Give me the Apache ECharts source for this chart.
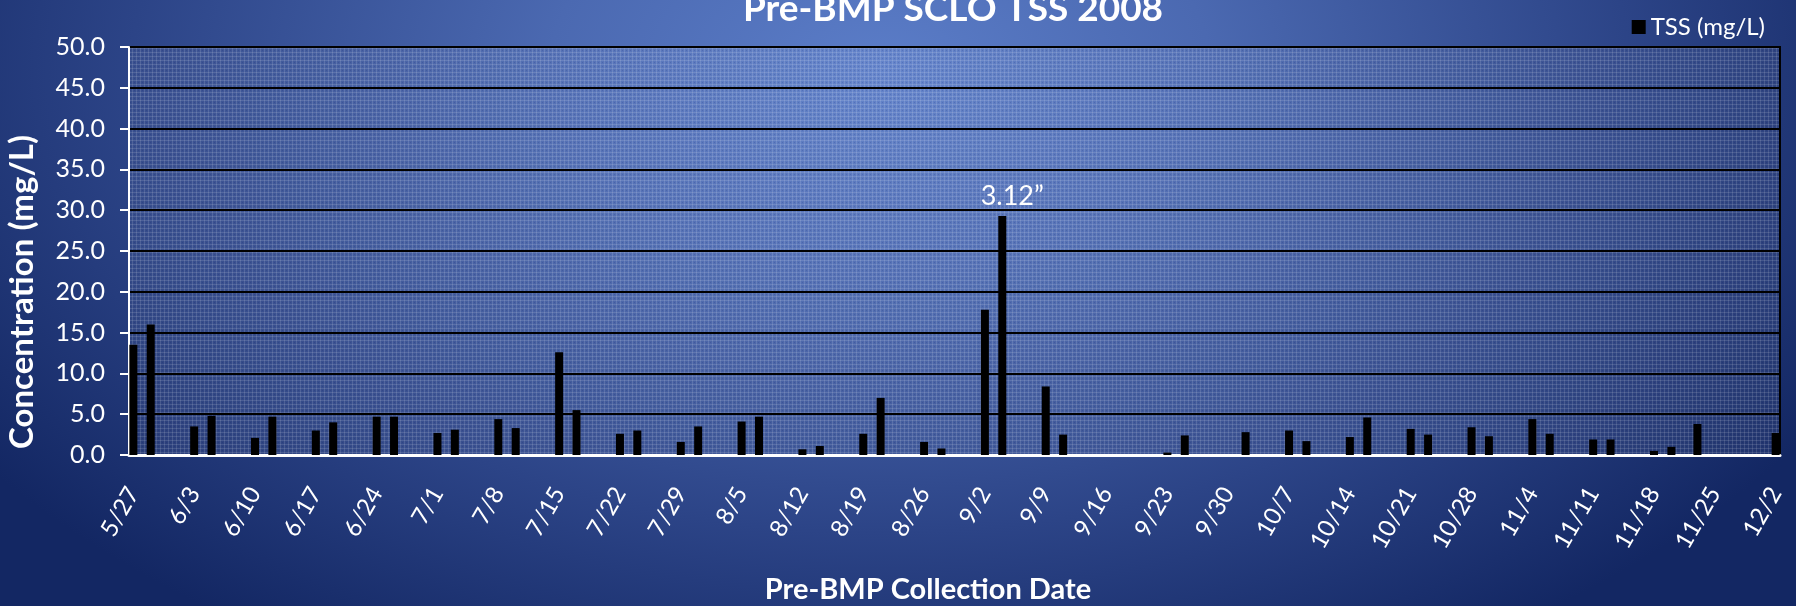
<!DOCTYPE html>
<html>
<head>
<meta charset="utf-8">
<script src="https://cdn.jsdelivr.net/npm/echarts@6/dist/echarts.min.js"></script>
<style>
  html, body { margin: 0; padding: 0; }
  #chart {
    width: 1796px;
    height: 606px;
    background: radial-gradient(ellipse 1100px 680px at 880px 70px, #5b7dc8 0%, #4b69b1 30%, #2c4487 68%, #132763 100%);
  }
</style>
</head>
<body>
<div id="chart"></div>
<script>
// sample dates (2008) and TSS values
var sampleDates = ['5/27', '5/29', '6/3', '6/5', '6/10', '6/12', '6/17', '6/19', '6/24', '6/26',
  '7/1', '7/3', '7/8', '7/10', '7/15', '7/17', '7/22', '7/24', '7/29', '7/31',
  '8/5', '8/7', '8/12', '8/14', '8/19', '8/21', '8/26', '8/28', '9/2', '9/4',
  '9/9', '9/11', '9/23', '9/25', '10/2', '10/7', '10/9', '10/14', '10/16', '10/21',
  '10/23', '10/28', '10/30', '11/4', '11/6', '11/11', '11/13', '11/18', '11/20', '11/23', '12/2'];
var tss = [13.5, 16.0, 3.5, 4.8, 2.1, 4.7, 3.0, 4.0, 4.7, 4.7,
  2.7, 3.1, 4.4, 3.3, 12.6, 5.5, 2.6, 3.0, 1.6, 3.5,
  4.1, 4.7, 0.7, 1.1, 2.6, 7.0, 1.6, 0.8, 17.8, 29.3,
  8.4, 2.5, 0.3, 2.4, 2.8, 3.0, 1.7, 2.2, 4.6, 3.2,
  2.5, 3.4, 2.3, 4.4, 2.6, 1.9, 1.9, 0.5, 1.0, 3.8, 2.7];
var tickLabels = ['5/27', '6/3', '6/10', '6/17', '6/24', '7/1', '7/8', '7/15', '7/22', '7/29',
  '8/5', '8/12', '8/19', '8/26', '9/2', '9/9', '9/16', '9/23', '9/30', '10/7',
  '10/14', '10/21', '10/28', '11/4', '11/11', '11/18', '11/25', '12/2'];
var yTicks = [0, 5, 10, 15, 20, 25, 30, 35, 40, 45, 50];
var rainNote = { date: '9/4', text: '3.12\u201D' };

// one category per day, like the excel date axis
var days = [];
var t0 = Date.UTC(2008, 4, 27), t1 = Date.UTC(2008, 11, 2);
for (var t = t0; t <= t1; t += 86400000) {
  var d = new Date(t);
  days.push((d.getUTCMonth() + 1) + '/' + d.getUTCDate());
}
var barData = days.map(function (day) {
  var i = sampleDates.indexOf(day);
  if (i < 0) return '-';
  if (day === rainNote.date) {
    return {
      value: tss[i],
      label: { show: true, position: 'top', formatter: rainNote.text, offset: [10, -1],
        color: '#fff', fontSize: 27, fontFamily: 'Lato' }
    };
  }
  return tss[i];
});

// small hatch tile for plot area
var tile = document.createElement('canvas');
tile.width = 4; tile.height = 4;
var c = tile.getContext('2d');
c.fillStyle = 'rgba(255,255,255,0.06)';
c.fillRect(0, 0, 4, 4);
c.fillStyle = 'rgba(255,255,255,0.12)';
c.fillRect(0, 0, 4, 1);
c.fillRect(0, 0, 1, 4);
c.fillStyle = 'rgba(20,30,90,0.14)';
c.fillRect(2, 2, 1, 1);

var font = 'Lato';
var myChart = echarts.init(document.getElementById('chart'));
var option = {
  backgroundColor: 'transparent',
  animation: false,
  textStyle: { fontFamily: font },
  legend: {
    data: ['TSS (mg/L)'],
    right: 26, top: 10,
    icon: 'rect', itemWidth: 14, itemHeight: 14, itemGap: 6,
    textStyle: { color: '#fff', fontSize: 24, fontFamily: font }
  },
  grid: {
    left: 129, right: 16, top: 47, bottom: 151,
    containLabel: false, outerBoundsMode: 'none',
    show: true,
    backgroundColor: { image: tile, repeat: 'repeat' },
    borderColor: '#000', borderWidth: 2
  },
  graphic: [
    { type: 'text', x: 953, y: 9, style: { text: 'Pre-BMP SCLO TSS 2008', fill: '#fff',
      font: 'bold 37px ' + font, align: 'center', verticalAlign: 'middle' } },
    { type: 'text', x: 22, y: 292, rotation: Math.PI / 2, style: { text: 'Concentration (mg/L)',
      fill: '#fff', font: 'bold 33px ' + font, align: 'center', verticalAlign: 'middle' } },
    { type: 'text', x: 928, y: 590, style: { text: 'Pre-BMP Collection Date', fill: '#fff',
      font: 'bold 29px ' + font, align: 'center', verticalAlign: 'middle' } }
  ],
  xAxis: {
    type: 'category',
    data: days,
    boundaryGap: true,
    axisLine: { show: true, lineStyle: { color: '#fff', width: 3 } },
    axisTick: { show: false },
    axisLabel: {
      color: '#fff', fontSize: 24, rotate: 60, margin: 34,
      interval: function (i, v) { return tickLabels.indexOf(v) >= 0; }
    },
    splitLine: { show: false }
  },
  yAxis: {
    type: 'value',
    min: yTicks[0], max: yTicks[yTicks.length - 1], interval: 5,
    axisLine: { show: true, lineStyle: { color: '#fff', width: 2 } },
    axisTick: { show: true, length: 9, lineStyle: { color: '#fff', width: 2 } },
    axisLabel: { color: '#fff', fontSize: 25, margin: 24,
      formatter: function (v) { return v.toFixed(1); } },
    splitLine: { show: true, lineStyle: { color: '#000', width: 2 } }
  },
  series: [
    {
      name: 'TSS (mg/L)',
      type: 'bar',
      data: barData,
      barWidth: 8,
      itemStyle: { color: '#000' }
    }
  ]
};
myChart.setOption(option);
</script>
</body>
</html>
